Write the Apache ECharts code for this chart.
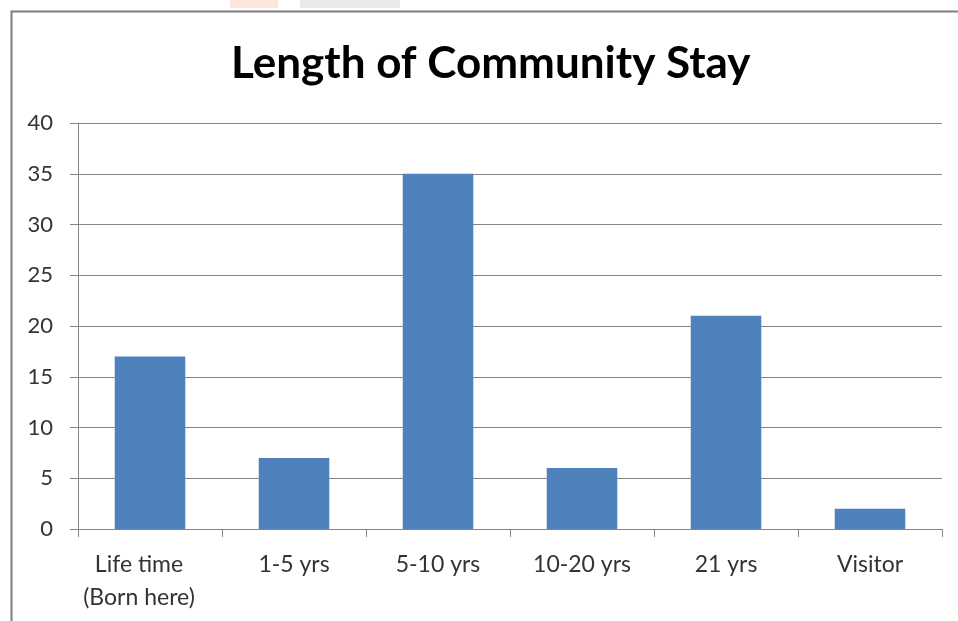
<!DOCTYPE html>
<html><head><meta charset="utf-8">
<script src="https://cdn.jsdelivr.net/npm/echarts@6/dist/echarts.min.js"></script>
<style>html,body{margin:0;padding:0;background:#fff}#c{width:958px;height:621px}</style>
</head><body><div id="c"></div>
<script>
const categories = ['Life time\n(Born here)', '1-5 yrs', '5-10 yrs', '10-20 yrs', '21 yrs', 'Visitor'];
const values = [17, 7, 35, 6, 21, 2];
const titleText = 'Length of Community Stay';

const catData = categories.map((c, i) => i === 0 ? {value: c, textStyle: {padding: [0, 22, 0, 0]}} : c);

const chart = echarts.init(document.getElementById('c'));
chart.setOption({
  backgroundColor: '#fff',
  animation: false,
  graphic: [
    {type: 'rect', left: 230, top: 0, shape: {width: 48, height: 8}, style: {fill: '#fde6dc'}, silent: true},
    {type: 'rect', left: 300, top: 0, shape: {width: 100, height: 8}, style: {fill: '#ece9e6'}, silent: true},
    {type: 'rect', left: 9, top: 9, shape: {x: 0, y: 0, width: 970, height: 640}, style: {fill: 'none', stroke: '#7f7f7f', lineWidth: 2}, silent: true}
  ],
  title: {
    text: titleText, left: 226, top: 37,
    textStyle: {fontFamily: 'Lato', fontWeight: 'bold', fontSize: 44, color: '#000'}
  },
  grid: {left: 78, right: 16, top: 123, bottom: 92, containLabel: false},
  xAxis: {
    type: 'category', data: catData,
    axisLine: {lineStyle: {color: '#868686', width: 1}},
    axisTick: {show: true, length: 8, alignWithLabel: false, lineStyle: {color: '#868686'}},
    axisLabel: {fontFamily: 'Lato', fontSize: 23, color: '#333', margin: 19, lineHeight: 33, interval: 0}
  },
  yAxis: {
    type: 'value', min: 0, max: 40, interval: 5,
    axisLine: {show: true, lineStyle: {color: '#868686'}},
    axisTick: {show: true, length: 8, lineStyle: {color: '#868686'}},
    splitLine: {lineStyle: {color: '#868686', width: 1}},
    axisLabel: {fontFamily: 'Lato', fontSize: 22, color: '#333', margin: 25}
  },
  series: [{
    type: 'bar', data: values, barWidth: '49%',
    itemStyle: {color: '#4F81BD'}
  }]
});
</script></body></html>
